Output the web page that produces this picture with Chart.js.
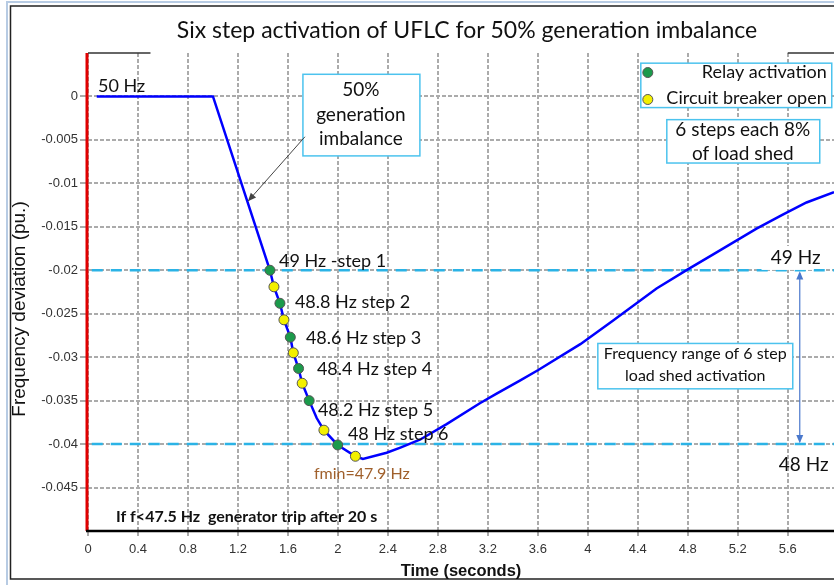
<!DOCTYPE html>
<html>
<head>
<meta charset="utf-8">
<script src="https://cdn.jsdelivr.net/npm/chart.js@4.4.1/dist/chart.umd.min.js"></script>
<style>
  html, body { margin: 0; padding: 0; background: #fff; }
  #wrap { width: 834px; height: 585px; }
</style>
</head>
<body>
<div id="wrap"><canvas id="ufls" width="834" height="585"></canvas></div>
<script>
// frequency deviation curve (pu.)
const timeS = [0.07, 1.0, 1.456, 1.488, 1.536, 1.568, 1.619, 1.643, 1.685, 1.714, 1.77, 1.83, 1.888, 1.998, 2.14, 2.2,
  2.39, 2.5, 2.656, 2.87, 3.136, 3.27, 3.456, 3.6, 3.94, 4.2, 4.55, 4.8, 5.0, 5.35, 5.56, 5.75, 5.97];
const deviation = [0, 0, -0.020, -0.0219, -0.0238, -0.0257, -0.0277, -0.0295, -0.0313, -0.0330, -0.0350, -0.0370, -0.0384, -0.0401, -0.0414, -0.0417,
  -0.0410, -0.0404, -0.0395, -0.0377, -0.0353, -0.0342, -0.0327, -0.0315, -0.0285, -0.0258, -0.0221, -0.0199, -0.0182, -0.0152, -0.0136, -0.0122, -0.0110];

// relay activation / breaker open points
const relayT = [1.456, 1.536, 1.619, 1.685, 1.77, 1.998];
const relayY = [-0.0200, -0.0238, -0.0277, -0.0313, -0.0350, -0.0401];
const breakerT = [1.488, 1.568, 1.643, 1.714, 1.888, 2.14];
const breakerY = [-0.0219, -0.0257, -0.0295, -0.0330, -0.0384, -0.0414];

const stepLabels = ['49 Hz -step 1', '48.8 Hz step 2', '48.6 Hz step 3', '48.4 Hz step 4', '48.2 Hz step 5', '48 Hz step 6'];
const thresholds = [-0.02, -0.04]; // 49 Hz and 48 Hz

const xTicks = [0, 0.4, 0.8, 1.2, 1.6, 2, 2.4, 2.8, 3.2, 3.6, 4, 4.4, 4.8, 5.2, 5.6];
const yTicks = [0, -0.005, -0.01, -0.015, -0.02, -0.025, -0.03, -0.035, -0.04, -0.045];

const toXY = (xs, ys) => xs.map((x, i) => ({ x: x, y: ys[i] }));

const CAL = 'Lato, "Open Sans", sans-serif';
const ARIAL = '"Liberation Sans", Arial, sans-serif';
const GREEN = '#1b9a4b';
const YELLOW = '#f3f000';
const BOXLINE = '#4cc3ee';

function dot(ctx, x, y, fill) {
  ctx.beginPath();
  ctx.arc(x, y, 5, 0, Math.PI * 2);
  ctx.fillStyle = fill;
  ctx.fill();
  ctx.lineWidth = 1;
  ctx.strokeStyle = '#555';
  ctx.stroke();
}

function box(ctx, x1, y1, x2, y2) {
  ctx.fillStyle = '#fff';
  ctx.fillRect(x1, y1, x2 - x1, y2 - y1);
  ctx.lineWidth = 1.5;
  ctx.strokeStyle = BOXLINE;
  ctx.strokeRect(x1, y1, x2 - x1, y2 - y1);
}

function arrowHead(ctx, x1, y1, x2, y2, size) {
  const a = Math.atan2(y2 - y1, x2 - x1);
  ctx.beginPath();
  ctx.moveTo(x2, y2);
  ctx.lineTo(x2 - size * Math.cos(a - 0.4), y2 - size * Math.sin(a - 0.4));
  ctx.lineTo(x2 - size * Math.cos(a + 0.4), y2 - size * Math.sin(a + 0.4));
  ctx.closePath();
  ctx.fill();
}

const frame = {
  id: 'frame',
  beforeDraw(chart) {
    const ctx = chart.ctx;
    ctx.save();
    ctx.fillStyle = '#fff';
    ctx.fillRect(0, 0, chart.width, chart.height);
    ctx.strokeStyle = '#b7cbe3';
    ctx.lineWidth = 2;
    ctx.beginPath();
    ctx.moveTo(7, 585); ctx.lineTo(7, 2); ctx.lineTo(834, 2);
    ctx.stroke();
    ctx.strokeStyle = '#222';
    ctx.lineWidth = 1.5;
    ctx.beginPath();
    ctx.moveTo(834, 6); ctx.lineTo(10.5, 6); ctx.lineTo(10.5, 579); ctx.lineTo(834, 579);
    ctx.stroke();
    ctx.fillStyle = '#111';
    ctx.font = '23px ' + CAL;
    ctx.textAlign = 'center';
    ctx.textBaseline = 'middle';
    ctx.fillText('Six step activation of UFLC for 50% generation imbalance', 467, 31);
    // y axis title
    ctx.save();
    ctx.translate(20, 309);
    ctx.rotate(-Math.PI / 2);
    ctx.font = '19px ' + ARIAL;
    ctx.fillText('Frequency deviation (pu.)', 0, 0);
    ctx.restore();
    ctx.restore();
  },
  afterDatasetsDraw(chart) {
    const ctx = chart.ctx;
    const xs = chart.scales.x, ys = chart.scales.y;
    const px = v => xs.getPixelForValue(v);
    const py = v => ys.getPixelForValue(v);
    const a = chart.chartArea;
    ctx.save();

    // axis lines
    ctx.strokeStyle = '#e00000';
    ctx.lineWidth = 3;
    ctx.beginPath(); ctx.moveTo(a.left - 1, a.top); ctx.lineTo(a.left - 1, a.bottom); ctx.stroke();
    ctx.strokeStyle = '#000';
    ctx.lineWidth = 2.5;
    ctx.beginPath(); ctx.moveTo(a.left - 2, a.bottom); ctx.lineTo(a.right, a.bottom); ctx.stroke();
    ctx.strokeStyle = '#333';
    ctx.lineWidth = 1.5;
    ctx.beginPath(); ctx.moveTo(a.left, a.top); ctx.lineTo(px(0.5), a.top); ctx.stroke();
    ctx.beginPath(); ctx.moveTo(px(5.6), a.top); ctx.lineTo(a.right, a.top); ctx.stroke();

    ctx.textBaseline = 'middle';
    ctx.fillStyle = '#111';

    // 50 Hz
    ctx.font = '18px ' + CAL;
    ctx.textAlign = 'left';
    ctx.fillText('50 Hz', px(0.08), py(0.00116));

    // 50% generation imbalance box + arrow
    box(ctx, px(1.72), py(0.00255), px(2.656), py(-0.00684));
    ctx.fillStyle = '#111';
    ctx.font = '19px ' + CAL;
    ctx.textAlign = 'center';
    ['50%', 'generation', 'imbalance'].forEach((t, i) => ctx.fillText(t, px(2.184), py(0.00070) + i * 24.5));
    ctx.strokeStyle = '#444';
    ctx.fillStyle = '#444';
    ctx.lineWidth = 1;
    ctx.beginPath(); ctx.moveTo(px(1.736), py(-0.00464)); ctx.lineTo(px(1.28), py(-0.01206)); ctx.stroke();
    arrowHead(ctx, px(1.736), py(-0.00464), px(1.28), py(-0.01206), 9);

    // legend
    box(ctx, px(4.424), py(0.00383), px(5.952), py(-0.00128));
    ctx.font = '18px ' + CAL;
    ctx.fillStyle = '#111';
    ctx.textAlign = 'right';
    ctx.fillText('Relay activation', px(5.912), py(0.00275));
    ctx.fillText('Circuit breaker open', px(5.912), py(-0.0002));
    dot(ctx, px(4.48), py(0.00275), GREEN);
    dot(ctx, px(4.48), py(-0.00035), YELLOW);

    // 6 steps box
    box(ctx, px(4.632), py(-0.00267), px(5.856), py(-0.00766));
    ctx.font = '19px ' + CAL;
    ctx.fillStyle = '#111';
    ctx.textAlign = 'center';
    ctx.fillText('6 steps each 8%', px(5.24), py(-0.00385));
    ctx.fillText('of load shed', px(5.24), py(-0.00665));

    // step labels
    const stepT = [1.528, 1.656, 1.744, 1.832, 1.84, 2.08];
    const stepY = [-0.0189, -0.0237, -0.0278, -0.0314, -0.0361, -0.0389];
    ctx.font = '18px ' + CAL;
    ctx.textAlign = 'left';
    stepLabels.forEach((t, i) => ctx.fillText(t, px(stepT[i]), py(stepY[i])));

    // fmin
    ctx.fillStyle = '#a0602c';
    ctx.font = '16px ' + CAL;
    ctx.fillText('fmin=47.9 Hz', px(1.808), py(-0.0434));

    // 49 / 48 Hz labels and range arrow
    ctx.fillStyle = '#fff';
    ctx.fillRect(px(5.39), py(-0.0172), 52, 24);
    ctx.fillStyle = '#111';
    ctx.font = '19px ' + CAL;
    ctx.fillText('49 Hz', px(5.464), py(-0.01856));
    ctx.fillText('48 Hz', px(5.528), py(-0.04234));
    ctx.strokeStyle = '#4a78cc';
    ctx.fillStyle = '#4a78cc';
    ctx.lineWidth = 1.2;
    const ax = px(5.696);
    ctx.beginPath(); ctx.moveTo(ax, py(-0.0203)); ctx.lineTo(ax, py(-0.0397)); ctx.stroke();
    arrowHead(ctx, ax, py(-0.03), ax, py(-0.0201), 9);
    arrowHead(ctx, ax, py(-0.03), ax, py(-0.0399), 9);

    box(ctx, px(4.08), py(-0.02842), px(5.64), py(-0.03364));
    ctx.fillStyle = '#111';
    ctx.font = '16px ' + CAL;
    ctx.textAlign = 'center';
    ctx.fillText('Frequency range of 6 step', px(4.86), py(-0.0296));
    ctx.fillText('load shed activation', px(4.86), py(-0.0321));

    // note
    ctx.font = 'bold 16px ' + CAL;
    ctx.textAlign = 'left';
    ctx.fillText('If f<47.5 Hz  generator trip after 20 s', px(0.224), py(-0.04838));

    // markers on top
    relayT.forEach((t, i) => dot(ctx, px(t), py(relayY[i]), GREEN));
    breakerT.forEach((t, i) => dot(ctx, px(t), py(breakerY[i]), YELLOW));
    ctx.restore();
  }
};

const gridStyle = { color: '#ababab', lineWidth: 2 };

new Chart(document.getElementById('ufls'), {
  type: 'line',
  data: {
    datasets: [
      {
        label: 'Frequency deviation',
        data: toXY(timeS, deviation),
        borderColor: '#0000ff',
        borderWidth: 2.5,
        pointRadius: 0,
        tension: 0,
        order: 1,
      },
      ...thresholds.map(v => ({
        label: 'threshold',
        data: [{ x: 0.03, y: v }, { x: 5.97, y: v }],
        borderColor: '#2bb3e6',
        borderWidth: 2.5,
        borderDash: [11, 8],
        pointRadius: 0,
        order: 2,
      })),
    ],
  },
  options: {
    responsive: false,
    animation: false,
    devicePixelRatio: 1,
    layout: { padding: { top: 53, left: 0, right: 0, bottom: 0 } },
    plugins: { legend: { display: false }, tooltip: { enabled: false } },
    scales: {
      x: {
        type: 'linear',
        min: 0,
        max: 5.97,
        afterBuildTicks: s => { s.ticks = xTicks.map(v => ({ value: v })); },
        afterFit: s => { s.height = 54; },
        grid: { ...gridStyle, tickLength: 5 },
        border: { display: false, dash: [4, 2] },
        ticks: {
          padding: 6,
          color: '#333',
          font: { family: ARIAL, size: 13 },
          maxRotation: 0,
          callback: v => String(+v.toFixed(1)),
        },
        title: {
          display: true,
          text: 'Time (seconds)',
          color: '#111',
          font: { family: ARIAL, size: 16.5, weight: 'bold' },
          padding: { top: 0, bottom: 4 },
        },
      },
      y: {
        type: 'linear',
        min: -0.05,
        max: 0.005,
        afterBuildTicks: s => { s.ticks = yTicks.map(v => ({ value: v })); },
        afterFit: s => { s.width = 88; },
        grid: { ...gridStyle, tickLength: 8 },
        border: { display: false, dash: [4, 2] },
        ticks: {
          padding: 2,
          color: '#333',
          font: { family: ARIAL, size: 13 },
          callback: v => (v === 0 ? '0' : String(+v.toFixed(3))),
        },
        title: { display: false },
      },
    },
  },
  plugins: [frame],
});
</script>
</body>
</html>
